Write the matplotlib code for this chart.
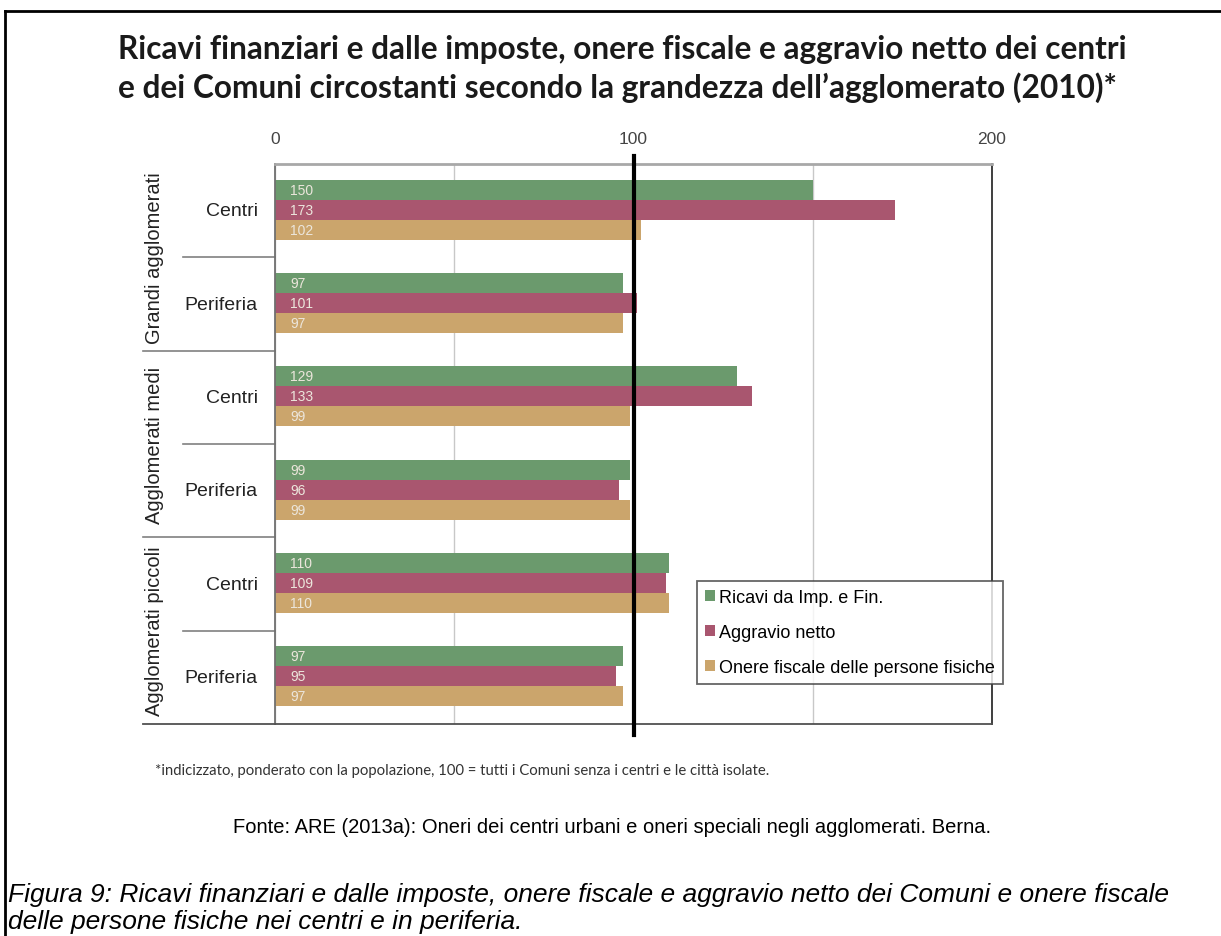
import numpy as np
import matplotlib.pyplot as plt
from matplotlib.lines import Line2D
from matplotlib.ticker import FixedLocator

# dati
gruppi = ["Grandi agglomerati", "Agglomerati medi", "Agglomerati piccoli"]
sotto = ["Centri", "Periferia", "Centri", "Periferia", "Centri", "Periferia"]
ricavi = [150, 97, 129, 99, 110, 97]
aggravio = [173, 101, 133, 96, 109, 95]
onere = [102, 97, 99, 99, 110, 97]
serie_nomi = ["Ricavi da Imp. e Fin.", "Aggravio netto", "Onere fiscale delle persone fisiche"]
colori = ["#6b9a6d", "#a9566f", "#cba56c"]
tick_x = [0, 100, 200]

W, H = 1221, 937
fig = plt.figure(figsize=(W / 100, H / 100), dpi=100)
ax = fig.add_axes([275 / W, 1 - 725 / H, 717 / W, 560 / H])

# barre
y = np.arange(len(sotto))
h = 0.214
for k, (vals, col, nome) in enumerate(zip([ricavi, aggravio, onere], colori, serie_nomi)):
    pos = y - 0.01 + (k - 1) * h
    ax.barh(pos, vals, height=h, color=col, label=nome, zorder=2)
    for p, v in zip(pos, vals):
        ax.text(4.2, p, str(v), va="center", ha="left", fontsize=10,
                color="#ece6dc", family="Liberation Sans", zorder=3)

ax.set_ylim(len(sotto) - 0.5, -0.5)
ax.set_xlim(0, 200)
ax.set_yticks([])

# asse x in alto
ax.xaxis.tick_top()
ax.xaxis.set_major_locator(FixedLocator(tick_x))
ax.xaxis.set_minor_locator(FixedLocator([50, 150]))
ax.tick_params(axis="x", which="both", length=0, pad=13, labelsize=12.5, labelcolor="#444444")
for lab in ax.get_xticklabels():
    lab.set_family("Liberation Sans")
ax.grid(axis="x", which="both", color="#c8c8c8", lw=1, zorder=0)
ax.axvline(100, ymin=-0.02, ymax=1.015, color="black", lw=3, zorder=4, clip_on=False)

ax.spines["top"].set_color("#a8a8a8")
ax.spines["top"].set_linewidth(2)
ax.spines["left"].set_color("#707070")
ax.spines["left"].set_linewidth(1.3)
ax.spines["right"].set_color("#303030")
ax.spines["right"].set_linewidth(1.3)
ax.spines["bottom"].set_color("#505050")
ax.spines["bottom"].set_linewidth(1.3)

# etichette categorie e linee separatrici
tr = ax.get_yaxis_transform()
x_out = (143 - 275) / 717
x_in = (183 - 275) / 717
for i, s in enumerate(sotto):
    ax.text(-0.024, i, s, transform=tr, ha="right", va="center", fontsize=14,
            family="Liberation Sans", color="#222222")
for g, nome in enumerate(gruppi):
    ax.text((155 - 275) / 717, 2 * g + 0.5, nome, transform=tr, rotation=90,
            ha="center", va="center", fontsize=14.5, family="Liberation Sans", color="#222222")
    ax.plot([x_in, 0], [2 * g + 0.5] * 2, transform=tr, color="#808080", lw=1.2, clip_on=False)
    if g > 0:
        ax.plot([x_out, 0], [2 * g - 0.5] * 2, transform=tr, color="#808080", lw=1.2, clip_on=False)
ax.plot([x_out, 0], [len(sotto) - 0.5] * 2, transform=tr, color="#505050", lw=1.3, clip_on=False)

# legenda
leg = ax.legend(loc="upper left", bbox_to_anchor=((697 - 275) / 717, 1 - (582 - 165) / 560),
                frameon=True, fancybox=False, edgecolor="#404040",
                prop={"family": "Liberation Sans", "size": 13},
                handlelength=0.55, handleheight=0.55, handletextpad=0.2,
                labelspacing=1.0, borderpad=0.45, borderaxespad=0)
leg.get_frame().set_linewidth(1.3)
leg.set_zorder(5)

# titolo e note
fig.text(118 / W, 1 - 50 / H, "Ricavi finanziari e dalle imposte, onere fiscale e aggravio netto dei centri",
         ha="left", va="center", fontsize=22.8, fontweight="bold", family="Lato", color="#1a1a1a")
fig.text(118 / W, 1 - 88 / H, "e dei Comuni circostanti secondo la grandezza dell\u2019agglomerato (2010)*",
         ha="left", va="center", fontsize=22.8, fontweight="bold", family="Lato", color="#1a1a1a")
fig.text(155 / W, 1 - 771 / H,
         "*indicizzato, ponderato con la popolazione, 100 = tutti i Comuni senza i centri e le citt\u00e0 isolate.",
         ha="left", va="center", fontsize=10.7, family="Lato", color="#333333")
fig.text(612 / W, 1 - 828 / H,
         "Fonte: ARE (2013a): Oneri dei centri urbani e oneri speciali negli agglomerati. Berna.",
         ha="center", va="center", fontsize=14.5, family="Liberation Sans", color="black")
fig.text(8 / W, 1 - 895 / H,
         "Figura 9: Ricavi finanziari e dalle imposte, onere fiscale e aggravio netto dei Comuni e onere fiscale",
         ha="left", va="center", fontsize=19, style="italic", family="Liberation Sans", color="black")
fig.text(8 / W, 1 - 922 / H, "delle persone fisiche nei centri e in periferia.",
         ha="left", va="center", fontsize=19, style="italic", family="Liberation Sans", color="black")

# cornice
fig.add_artist(Line2D([5 / W, 1], [1 - 12 / H, 1 - 12 / H], color="black", lw=2))
fig.add_artist(Line2D([5 / W, 5 / W], [0, 1 - 12 / H], color="black", lw=2))

plt.savefig("out.png", dpi=100)
